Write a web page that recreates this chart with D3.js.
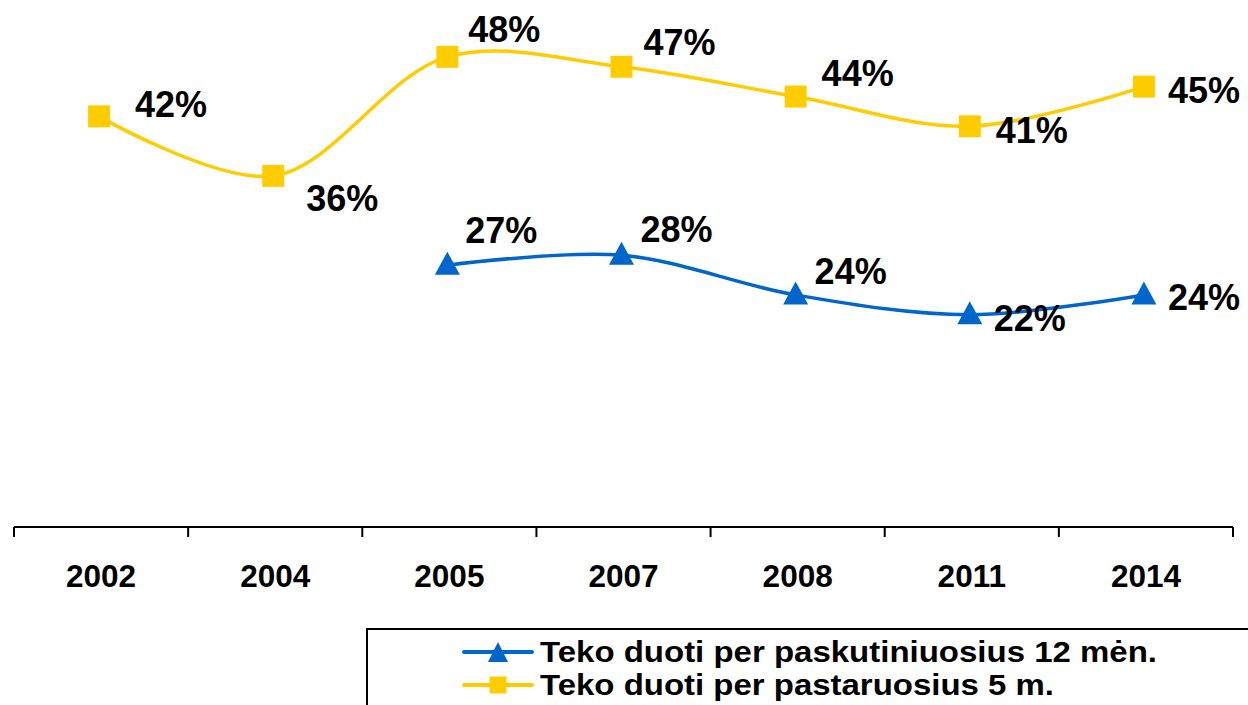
<!DOCTYPE html>
<html>
<head>
<meta charset="utf-8">
<script src="https://cdn.jsdelivr.net/npm/d3@7"></script>
<style>
  body { margin: 0; background: #fff; }
  svg { display: block; font-family: "Liberation Sans", Arial, sans-serif; }
</style>
</head>
<body>
<div id="chart"></div>
<script>
// data
var years = ["2002", "2004", "2005", "2007", "2008", "2011", "2014"];
var last5 = [42, 36, 48, 47, 44, 41, 45];
var last12 = [null, null, 27, 28, 24, 22, 24];
var seriesNames = ["Teko duoti per paskutiniuosius 12 mėn.", "Teko duoti per pastaruosius 5 m."];

// label offsets (layout only)
var off5 = [[72, -12], [69, 22], [57, -28], [58, -25], [62, -23], [62, 4], [60, 3]];
var off12 = [null, null, [54, -35], [55, -26], [55, -24], [60, 3], [60, 2]];

var width = 1248, height = 705;
var svg = d3.select("#chart").append("svg")
    .attr("width", width)
    .attr("height", height);

var x = d3.scaleBand()
    .domain(years)
    .range([14, 1233]);

var y = d3.scaleLinear()
    .domain([0, 50])
    .range([533, 37]);

var axisY = 527;

// x axis
var xAxis = svg.append("g")
    .attr("transform", "translate(0," + axisY + ")")
    .call(d3.axisBottom(x).tickSize(0).tickPadding(0));
xAxis.select(".domain").remove();
xAxis.append("line")
    .attr("x1", 14).attr("x2", 1233)
    .attr("stroke", "#000").attr("stroke-width", 2);
xAxis.selectAll(".sep")
    .data(d3.range(years.length + 1))
    .enter().append("line")
    .attr("x1", i => 14 + i * x.step())
    .attr("x2", i => 14 + i * x.step())
    .attr("y1", 0).attr("y2", 10)
    .attr("stroke", "#000").attr("stroke-width", 2);
xAxis.selectAll(".tick text")
    .attr("y", 60)
    .attr("dy", 0)
    .attr("font-size", null)
    .style("font-size", "31.5px")
    .style("font-weight", "bold")
    .style("font-family", "'Liberation Sans', Arial, sans-serif")
    .attr("fill", "#000");

var cx = function(i) { return x(years[i]) + x.bandwidth() / 2 - 2; };

var line = d3.line()
    .defined(d => d.v != null)
    .x(d => cx(d.i))
    .y(d => y(d.v))
    .curve(d3.curveCatmullRom.alpha(0.5));

var d5 = last5.map((v, i) => ({v: v, i: i}));
var d12 = last12.map((v, i) => ({v: v, i: i})).filter(d => d.v != null);

var yellow = "#FFCC00", blue = "#0066CC";

svg.append("path").datum(d5)
    .attr("d", line).attr("fill", "none")
    .attr("stroke", yellow).attr("stroke-width", 3.5);
svg.append("path").datum(d12)
    .attr("d", line).attr("fill", "none")
    .attr("stroke", blue).attr("stroke-width", 3.5);

function triPath(w, h) {
  return "M0," + (-h / 2) + "L" + (w / 2) + "," + (h / 2) + "L" + (-w / 2) + "," + (h / 2) + "Z";
}
function sqPath(s) {
  return "M" + (-s / 2) + "," + (-s / 2) + "h" + s + "v" + s + "h" + (-s) + "Z";
}

svg.selectAll(".m5").data(d5).enter().append("path")
    .attr("d", sqPath(22))
    .attr("transform", d => "translate(" + cx(d.i) + "," + y(d.v) + ")")
    .attr("fill", yellow);
svg.selectAll(".m12").data(d12).enter().append("path")
    .attr("d", triPath(25, 23))
    .attr("transform", d => "translate(" + cx(d.i) + "," + (y(d.v) - 2) + ")")
    .attr("fill", blue);

// data labels
function labels(data, offs) {
  svg.selectAll(null).data(data).enter().append("text")
      .attr("x", d => cx(d.i) + offs[d.i][0])
      .attr("y", d => y(d.v) + offs[d.i][1])
      .attr("dy", "0.36em")
      .attr("text-anchor", "middle")
      .style("font-size", "36px")
      .style("font-weight", "bold")
      .text(d => d.v + "%");
}
labels(d5, off5);
labels(d12, off12);

// legend
var lg = svg.append("g");
lg.append("rect")
    .attr("x", 367).attr("y", 629)
    .attr("width", 900).attr("height", 100)
    .attr("fill", "none").attr("stroke", "#000").attr("stroke-width", 2);

var legendItems = [
  {name: seriesNames[0], color: blue, mark: triPath(20, 20), y: 652, w: 617},
  {name: seriesNames[1], color: yellow, mark: sqPath(17), y: 685, w: 514}
];
legendItems.forEach(function(it) {
  lg.append("line")
      .attr("x1", 464).attr("x2", 532)
      .attr("y1", it.y).attr("y2", it.y)
      .attr("stroke", it.color).attr("stroke-width", 4)
      .attr("stroke-linecap", "round");
  lg.append("path")
      .attr("d", it.mark)
      .attr("transform", "translate(498," + it.y + ")")
      .attr("fill", it.color);
  lg.append("text")
      .attr("x", 540).attr("y", it.y + 10)
      .attr("textLength", it.w)
      .attr("lengthAdjust", "spacingAndGlyphs")
      .style("font-size", "30px")
      .style("font-weight", "bold")
      .text(it.name);
});
</script>
</body>
</html>
